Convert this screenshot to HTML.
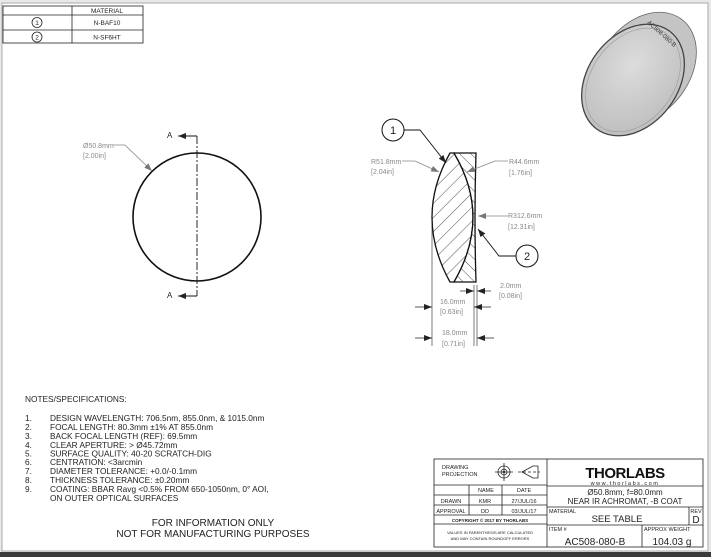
<!DOCTYPE html>
<html><head><meta charset="utf-8"><style>
body{margin:0;width:711px;height:557px;overflow:hidden;background:#fff;font-family:"Liberation Sans",sans-serif}
svg{display:block}
</style></head><body>
<svg width="711" height="557" viewBox="0 0 711 557" xmlns="http://www.w3.org/2000/svg" font-family="Liberation Sans, sans-serif">
<defs>
<marker id="ab" markerWidth="8" markerHeight="6" refX="8" refY="3" orient="auto" markerUnits="userSpaceOnUse"><path d="M0,0L8,3L0,6z" fill="#222"/></marker>
<marker id="ag" markerWidth="8" markerHeight="6" refX="8" refY="3" orient="auto" markerUnits="userSpaceOnUse"><path d="M0,0L8,3L0,6z" fill="#777"/></marker>
<pattern id="h1" width="10" height="10" patternUnits="userSpaceOnUse" patternTransform="rotate(45)"><line x1="0" y1="0" x2="0" y2="10" stroke="#222" stroke-width="0.8"/></pattern>
<pattern id="h2" width="8" height="8" patternUnits="userSpaceOnUse" patternTransform="rotate(-45)"><line x1="0" y1="0" x2="0" y2="8" stroke="#222" stroke-width="0.8"/></pattern>
<radialGradient id="lg" cx="0.4" cy="0.4" r="0.7"><stop offset="0" stop-color="#dcdcdc"/><stop offset="1" stop-color="#bcbcbc"/></radialGradient>
</defs>
<rect x="0" y="0" width="711" height="557" fill="#e8e8e8"/>
<rect x="2" y="3" width="706" height="548" fill="#fff" stroke="#aaa" stroke-width="1"/>
<rect x="0" y="552" width="711" height="5" fill="#3a3a3a"/>

<!-- material table -->
<g stroke="#222" stroke-width="0.8" fill="none">
<rect x="3" y="6" width="140" height="37"/>
<line x1="3" y1="15" x2="143" y2="15"/><line x1="3" y1="30" x2="143" y2="30"/>
<line x1="72" y1="6" x2="72" y2="43"/>
<circle cx="37" cy="22.5" r="5"/><circle cx="37" cy="37" r="5"/>
</g>
<g font-size="6.5" fill="#222" text-anchor="middle">
<text x="107" y="13">MATERIAL</text><text x="107" y="25">N-BAF10</text><text x="107" y="39.5">N-SF6HT</text>
<text x="37" y="25">1</text><text x="37" y="39.5">2</text>
</g>

<!-- lens photo -->
<g fill="#c4c4c4">
<ellipse cx="645" cy="68" rx="45" ry="61" transform="rotate(37 645 68)"/>
<ellipse cx="642" cy="71" rx="45" ry="61" transform="rotate(37 642 71)"/>
<ellipse cx="639" cy="74" rx="45" ry="61" transform="rotate(37 639 74)"/>
<ellipse cx="636" cy="77" rx="45" ry="61" transform="rotate(37 636 77)"/>
</g>
<ellipse cx="645" cy="68" rx="45" ry="61" transform="rotate(37 645 68)" fill="none" stroke="#666" stroke-width="0.8"/>
<ellipse cx="633" cy="80" rx="45" ry="61" transform="rotate(37 633 80)" fill="url(#lg)" stroke="#444" stroke-width="1.3"/>
<ellipse cx="633" cy="80" rx="41" ry="57" transform="rotate(37 633 80)" fill="none" stroke="#999" stroke-width="0.6"/>
<text x="647" y="23" font-size="6" fill="#333" transform="rotate(42 647 23)">AC508-080-B</text>

<!-- front view circle -->
<circle cx="197" cy="217" r="64" fill="none" stroke="#111" stroke-width="1.6"/>
<line x1="197" y1="136" x2="197" y2="296" stroke="#111" stroke-width="0.9" stroke-dasharray="8,2,2,2"/>
<line x1="197" y1="136" x2="178" y2="136" stroke="#111" marker-end="url(#ab)"/>
<line x1="197" y1="296" x2="178" y2="296" stroke="#111" marker-end="url(#ab)"/>
<text x="167" y="138" font-size="8" fill="#222">A</text>
<text x="167" y="298" font-size="8" fill="#222">A</text>
<text x="83" y="148" font-size="7" fill="#888">Ø50.8mm</text>
<text x="83" y="158" font-size="7" fill="#888">[2.00in]</text>
<polyline points="113,145 125,145 152,171" fill="none" stroke="#888" stroke-width="0.8" marker-end="url(#ag)"/>

<!-- section -->
<path d="M450,153 Q414,217 450,282 L454,282 Q492,217 454,153 Z" fill="url(#h1)" stroke="#111" stroke-width="1.3"/>
<path d="M454,153 Q492,217 454,282 L476,282 Q474,217 476,153 Z" fill="#fff"/>
<path d="M454,153 Q492,217 454,282 L476,282 Q474,217 476,153 Z" fill="url(#h2)" stroke="#111" stroke-width="1.3"/>
<g stroke="#222" stroke-width="0.6">
<line x1="432" y1="225" x2="432" y2="346"/><line x1="474" y1="285" x2="474" y2="346"/><line x1="477" y1="285" x2="477" y2="346"/>
</g>
<g stroke="#222" stroke-width="0.7">
<line x1="415" y1="307" x2="432" y2="307" marker-end="url(#ab)"/><line x1="491" y1="307" x2="474" y2="307" marker-end="url(#ab)"/>
<line x1="415" y1="338" x2="432" y2="338" marker-end="url(#ab)"/><line x1="494" y1="338" x2="477" y2="338" marker-end="url(#ab)"/>
<line x1="460" y1="291" x2="474" y2="291" marker-end="url(#ab)"/><line x1="491" y1="291" x2="477" y2="291" marker-end="url(#ab)"/>
</g>
<g font-size="7" fill="#888">
<text x="440" y="304">16.0mm</text><text x="440" y="314">[0.63in]</text>
<text x="442" y="335">18.0mm</text><text x="442" y="346">[0.71in]</text>
<text x="500" y="288">2.0mm</text><text x="499" y="298">[0.08in]</text>
<text x="371" y="164">R51.8mm</text><text x="371" y="174">[2.04in]</text>
<text x="509" y="164">R44.6mm</text><text x="509" y="175">[1.76in]</text>
<text x="508" y="218">R312.6mm</text><text x="508" y="229">[12.31in]</text>
</g>
<polyline points="402,161 415,161 439,172" fill="none" stroke="#888" stroke-width="0.8" marker-end="url(#ag)"/>
<polyline points="508,161 495,161 467,172" fill="none" stroke="#888" stroke-width="0.8" marker-end="url(#ag)"/>
<line x1="508" y1="216" x2="478" y2="216" stroke="#888" stroke-width="0.8" marker-end="url(#ag)"/>
<circle cx="393" cy="130" r="11" fill="#fff" stroke="#111" stroke-width="1"/>
<text x="393" y="134" font-size="11" text-anchor="middle" fill="#222">1</text>
<polyline points="404,130 420,130 446,163" fill="none" stroke="#111" stroke-width="0.9" marker-end="url(#ab)"/>
<circle cx="527" cy="256" r="11" fill="#fff" stroke="#111" stroke-width="1"/>
<text x="527" y="260" font-size="11" text-anchor="middle" fill="#222">2</text>
<polyline points="516,256 499,256 478,229" fill="none" stroke="#111" stroke-width="0.9" marker-end="url(#ab)"/>

<!-- notes -->
<g font-size="8.3" fill="#222">
<text x="25" y="402">NOTES/SPECIFICATIONS:</text>
<text x="25" y="421">1.</text><text x="50" y="421">DESIGN WAVELENGTH: 706.5nm, 855.0nm, &amp; 1015.0nm</text>
<text x="25" y="430">2.</text><text x="50" y="430">FOCAL LENGTH: 80.3mm ±1% AT 855.0nm</text>
<text x="25" y="439">3.</text><text x="50" y="439">BACK FOCAL LENGTH (REF): 69.5mm</text>
<text x="25" y="448">4.</text><text x="50" y="448">CLEAR APERTURE: &gt; Ø45.72mm</text>
<text x="25" y="456.5">5.</text><text x="50" y="456.5">SURFACE QUALITY: 40-20 SCRATCH-DIG</text>
<text x="25" y="465">6.</text><text x="50" y="465">CENTRATION: &lt;3arcmin</text>
<text x="25" y="474">7.</text><text x="50" y="474">DIAMETER TOLERANCE: +0.0/-0.1mm</text>
<text x="25" y="483">8.</text><text x="50" y="483">THICKNESS TOLERANCE: ±0.20mm</text>
<text x="25" y="492">9.</text><text x="50" y="492">COATING: BBAR Ravg &lt;0.5% FROM 650-1050nm, 0° AOI,</text>
<text x="50" y="501">ON OUTER OPTICAL SURFACES</text>
</g>
<g font-size="10" fill="#222" text-anchor="middle">
<text x="213" y="526">FOR INFORMATION ONLY</text>
<text x="213" y="537">NOT FOR MANUFACTURING PURPOSES</text>
</g>

<!-- title block -->
<g stroke="#222" stroke-width="0.8" fill="none">
<rect x="434" y="459" width="269" height="88"/>
<line x1="547" y1="459" x2="547" y2="547"/>
<line x1="434" y1="485" x2="547" y2="485"/><line x1="434" y1="495" x2="547" y2="495"/>
<line x1="434" y1="505" x2="547" y2="505"/><line x1="434" y1="515" x2="547" y2="515"/>
<line x1="434" y1="524" x2="547" y2="524"/>
<line x1="469" y1="485" x2="469" y2="515"/><line x1="502" y1="485" x2="502" y2="515"/>
<line x1="547" y1="486" x2="703" y2="486"/><line x1="547" y1="507" x2="703" y2="507"/>
<line x1="547" y1="525" x2="703" y2="525"/>
<line x1="689" y1="507" x2="689" y2="525"/><line x1="642" y1="525" x2="642" y2="547"/>
<circle cx="504" cy="472" r="6"/><circle cx="504" cy="472" r="3"/>
<line x1="495" y1="472" x2="513" y2="472"/><line x1="504" y1="463" x2="504" y2="481"/>
<path d="M522,472 L533,466 L538,466 L538,478 L533,478 Z"/>
<line x1="518" y1="472" x2="540" y2="472" stroke-dasharray="3,2"/>
</g>
<circle cx="504" cy="472" r="1.2" fill="#222"/>
<g fill="#222" font-size="5.5">
<text x="442" y="469">DRAWING</text><text x="442" y="476">PROJECTION</text>
<text x="486" y="492" text-anchor="middle">NAME</text>
<text x="524" y="492" text-anchor="middle">DATE</text>
<text x="451" y="503" text-anchor="middle">DRAWN</text>
<text x="485" y="503" text-anchor="middle">KMR</text>
<text x="524" y="503" text-anchor="middle">27/JUL/16</text>
<text x="451" y="513" text-anchor="middle">APPROVAL</text>
<text x="485" y="513" text-anchor="middle">DD</text>
<text x="524" y="513" text-anchor="middle">03/JUL/17</text>
<text x="490" y="522" text-anchor="middle" font-size="4.5" font-weight="bold">COPYRIGHT © 2017 BY THORLABS</text>
<text x="490" y="534" text-anchor="middle" font-size="4">VALUES IN PARENTHESIS ARE CALCULATED</text>
<text x="490" y="540" text-anchor="middle" font-size="4">AND MAY CONTAIN ROUNDOFF ERRORS</text>
<text x="549" y="513">MATERIAL</text>
<text x="549" y="531">ITEM #</text>
<text x="644" y="531">APPROX WEIGHT</text>
<text x="696" y="513" text-anchor="middle">REV</text>
</g>
<text x="625" y="478" font-size="15" font-weight="bold" text-anchor="middle" fill="#111" letter-spacing="-0.5">THORLABS</text>
<text x="625" y="485" font-size="5.5" text-anchor="middle" fill="#222" letter-spacing="1.5">www.thorlabs.com</text>
<text x="625" y="495" font-size="8" text-anchor="middle" fill="#222">Ø50.8mm, f=80.0mm</text>
<text x="625" y="504" font-size="8" text-anchor="middle" fill="#222">NEAR IR ACHROMAT, -B COAT</text>
<text x="617" y="522" font-size="9.5" text-anchor="middle" fill="#222">SEE TABLE</text>
<text x="696" y="523" font-size="10" text-anchor="middle" fill="#222">D</text>
<text x="595" y="545" font-size="10" text-anchor="middle" fill="#222">AC508-080-B</text>
<text x="672" y="545" font-size="10" text-anchor="middle" fill="#222">104.03 g</text>
</svg>
</body></html>
